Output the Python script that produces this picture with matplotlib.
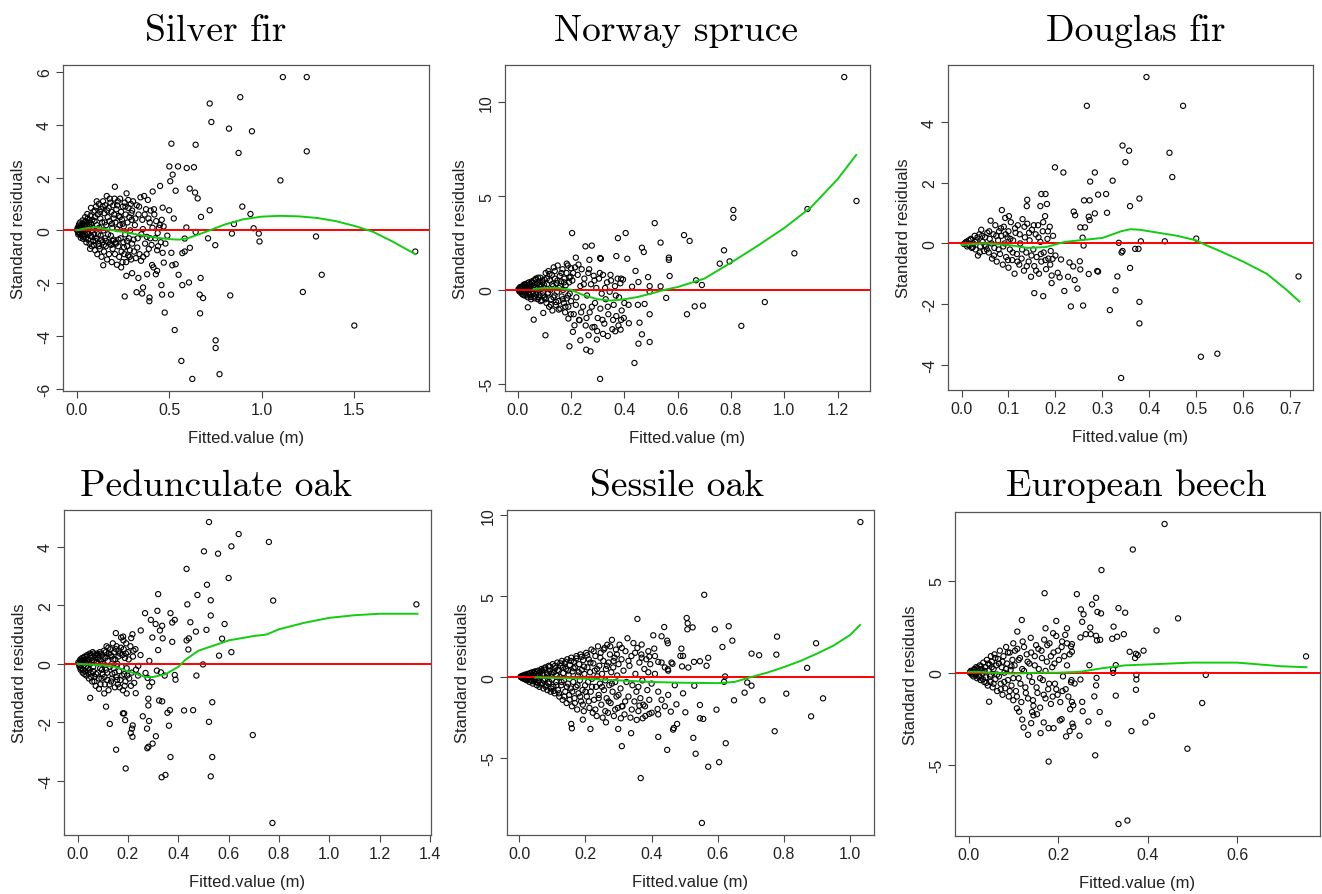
import numpy as np
import matplotlib.pyplot as plt
from matplotlib.ticker import FormatStrFormatter

plt.rcParams['font.family'] = ['Liberation Sans', 'DejaVu Sans']
plt.rcParams['axes.unicode_minus'] = False

# ---- data: (fitted value, standard residual) ----
silver_fir = [
    # spread-out points
    (1.114, 5.80), (1.243, 5.80), (0.884, 5.04), (0.719, 4.80), (0.728, 4.10), (0.823, 3.85),
    (0.947, 3.75), (1.243, 2.99), (0.512, 3.28), (0.643, 3.24), (0.875, 2.93), (1.101, 1.89),
    (0.501, 2.42), (0.548, 2.42), (0.595, 2.36), (0.634, 2.39), (0.519, 2.11), (0.506, 1.86),
    (0.535, 1.50), (0.611, 1.58), (0.640, 1.43), (0.654, 1.21), (0.451, 1.68), (0.207, 1.65),
    (0.411, 1.47), (0.895, 0.90), (0.719, 0.76), (0.939, 0.62), (0.672, 0.51), (0.525, 0.45),
    (0.500, 0.76), (0.465, 0.86), (0.850, 0.24), (0.956, 0.08), (0.984, -0.12), (0.988, -0.42),
    (0.839, -0.12), (1.293, -0.23), (1.829, -0.80), (0.643, -0.06), (0.593, 0.11), (0.584, -0.31),
    (0.710, -0.30), (0.749, -0.56), (0.571, -0.86), (0.584, -0.80), (0.612, -0.66), (0.670, -1.80),
    (0.607, -1.97), (0.571, -2.07), (0.665, -2.43), (0.683, -2.56), (0.830, -2.46), (0.667, -3.14),
    (1.222, -2.33), (1.324, -1.68), (1.500, -3.60), (0.530, -3.77), (0.566, -4.94), (0.751, -4.16),
    (0.751, -4.45), (0.772, -5.44), (0.625, -5.62), (0.476, -3.11), (0.462, -2.43), (0.510, -2.43),
    (0.458, -2.07), (0.535, -1.28), (0.551, -1.68), (0.517, -1.32), (0.512, -0.85), (0.393, -2.68),
    (0.394, -2.54), (0.359, -2.16), (0.324, -2.34), (0.260, -2.50), (0.354, -2.39), (0.269, -1.72),
    (0.300, -1.62), (0.334, -1.80), (0.408, -1.31), (0.381, -1.66), (0.428, -1.66), (0.435, -1.53),
    (0.471, -1.22), (0.144, -1.32),
    # dense cloud
    (0.005, 0.02), (0.008, -0.05), (0.010, 0.08), (0.012, -0.10), (0.015, 0.05), (0.018, 0.15),
    (0.020, -0.12), (0.022, 0.00), (0.025, 0.20), (0.027, -0.20), (0.030, 0.10), (0.032, -0.05),
    (0.035, 0.25), (0.037, -0.25), (0.040, 0.05), (0.042, 0.30), (0.045, -0.15), (0.047, 0.12),
    (0.050, -0.30), (0.050, 0.35), (0.055, 0.20), (0.057, -0.10), (0.060, 0.45), (0.062, -0.35),
    (0.065, 0.05), (0.067, 0.30), (0.070, -0.50), (0.072, 0.15), (0.075, 0.55), (0.077, -0.20),
    (0.080, 0.25), (0.082, -0.60), (0.085, 0.40), (0.087, 0.00), (0.090, -0.40), (0.092, 0.70),
    (0.095, -0.15), (0.097, 0.35), (0.100, -0.75), (0.100, 0.50), (0.105, 0.90), (0.108, -0.30),
    (0.110, 0.20), (0.112, -0.90), (0.115, 0.60), (0.118, -0.50), (0.120, 1.00), (0.122, 0.10),
    (0.125, -0.70), (0.128, 0.45), (0.130, -0.20), (0.133, 0.80), (0.135, -1.00), (0.138, 0.30),
    (0.140, -0.45), (0.143, 1.10), (0.145, 0.00), (0.148, -0.80), (0.150, 0.65), (0.153, -0.30),
    (0.155, 0.95), (0.158, -0.60), (0.160, 0.20), (0.163, 1.30), (0.165, -1.10), (0.168, 0.50),
    (0.170, -0.15), (0.173, 0.85), (0.175, -0.90), (0.178, 0.35), (0.180, -0.50), (0.183, 1.05),
    (0.185, -0.20), (0.188, 0.70), (0.190, -1.20), (0.193, 0.10), (0.195, -0.70), (0.198, 0.95),
    (0.200, -0.35), (0.200, 0.45), (0.205, 1.20), (0.208, -0.90), (0.210, 0.30), (0.213, -0.50),
    (0.215, 0.80), (0.218, -1.30), (0.220, 0.05), (0.223, 1.10), (0.225, -0.60), (0.228, 0.55),
    (0.230, -1.00), (0.233, 0.20), (0.235, 1.20), (0.238, -0.30), (0.240, 0.70), (0.243, -0.80),
    (0.245, 0.40), (0.248, -1.20), (0.250, 0.90), (0.253, -0.45), (0.255, 0.15), (0.258, -0.90),
    (0.260, 1.05), (0.263, -0.15), (0.265, 0.60), (0.268, -1.20), (0.270, 1.40), (0.273, -0.60),
    (0.275, 0.30), (0.278, -0.95), (0.280, 0.85), (0.283, -0.30), (0.285, 0.50), (0.288, -0.75),
    (0.290, 0.00), (0.293, 1.00), (0.295, -1.10), (0.298, 0.40), (0.300, -0.50), (0.300, 0.75),
    (0.305, 1.10), (0.310, -0.80), (0.315, 0.20), (0.320, -1.05), (0.325, 0.95), (0.330, -0.30),
    (0.335, 0.60), (0.340, -0.90), (0.345, 1.25), (0.350, -0.15), (0.355, 0.40), (0.360, -1.00),
    (0.365, 1.30), (0.370, -0.50), (0.375, 0.80), (0.380, -0.25), (0.385, 1.15), (0.390, -0.70),
    (0.395, 0.30), (0.400, 0.75), (0.405, -0.55), (0.410, 0.10), (0.415, -1.40), (0.420, 0.60),
    (0.425, -0.30), (0.430, 0.35), (0.435, -0.75), (0.440, -0.60), (0.445, 0.10), (0.450, 0.20),
    (0.455, -0.45), (0.460, 0.40), (0.465, -0.85), (0.470, 0.15), (0.480, -0.50), (0.490, -0.20),
    (0.003, 0.00), (0.006, 0.10), (0.009, -0.15), (0.013, 0.22), (0.016, -0.08), (0.019, 0.30),
    (0.023, -0.28), (0.026, 0.12), (0.029, -0.02), (0.033, 0.38), (0.036, -0.32), (0.039, 0.18),
    (0.043, -0.22), (0.046, 0.50), (0.049, 0.02), (0.053, -0.45), (0.058, 0.62), (0.063, -0.15),
    (0.068, 0.40), (0.073, -0.70), (0.078, 0.85), (0.083, -0.25), (0.088, 0.10), (0.093, -0.55),
    (0.098, 0.75), (0.103, -0.40), (0.109, 1.10), (0.116, -0.15), (0.121, -0.60), (0.127, 0.70),
    (0.134, -0.35), (0.141, 0.90), (0.147, -0.55), (0.152, 0.30), (0.159, -0.40), (0.166, 0.75),
    (0.172, -0.45), (0.179, 1.20), (0.186, -0.55), (0.191, 0.25), (0.196, -0.40), (0.203, 0.60),
    (0.211, -0.45), (0.219, 0.95), (0.226, -0.35), (0.234, 0.50), (0.241, -1.40), (0.249, 0.25),
    (0.256, -0.65), (0.264, 0.90), (0.272, -0.40), (0.279, 1.15), (0.287, -1.00), (0.296, 0.65),
    (0.308, -0.35), (0.318, 0.45), (0.328, -0.65), (0.338, 0.90), (0.348, -1.15), (0.358, 0.05),
    (0.368, 0.60), (0.378, -0.90), (0.388, 0.45), (0.398, -0.30), (0.418, 0.80), (0.438, -0.10),
]
silver_fit_x = [0.0, 0.05, 0.1, 0.2, 0.3, 0.4, 0.5, 0.55, 0.6, 0.7, 0.8, 0.9, 1.0, 1.1, 1.2, 1.3,
                1.4, 1.5, 1.6, 1.7, 1.83]
silver_fit_y = [0.0, 0.08, 0.12, 0.0, -0.12, -0.25, -0.33, -0.35, -0.3, -0.05, 0.22, 0.42, 0.52,
                0.55, 0.53, 0.47, 0.35, 0.17, -0.05, -0.4, -0.9]

norway_spruce = [
    (1.225, 11.35), (1.271, 4.74), (1.087, 4.31), (0.809, 4.26), (0.809, 3.85), (1.038, 1.95),
    (0.774, 2.11), (0.758, 1.40), (0.795, 1.52), (0.669, 0.51), (0.691, 0.26), (0.927, -0.65),
    (0.839, -1.92), (0.514, 3.56), (0.624, 2.92), (0.645, 2.61), (0.536, 2.52), (0.567, 1.72),
    (0.567, 1.60), (0.570, 0.74), (0.536, 0.19), (0.557, -0.43), (0.664, -0.88), (0.695, -0.84),
    (0.635, -1.30), (0.495, -1.30), (0.495, -2.78), (0.453, -2.87), (0.466, -2.37), (0.457, -1.75),
    (0.438, -3.90), (0.309, -4.75), (0.405, 3.03), (0.376, 2.76), (0.370, 1.80), (0.411, 1.66),
    (0.466, 2.25), (0.473, 2.02), (0.204, 3.03), (0.254, 2.32), (0.278, 2.36), (0.218, 1.72),
    (0.269, 1.60), (0.309, 1.70), (0.312, 1.66), (0.442, 1.01), (0.489, 0.68), (0.495, 0.20),
    (0.453, 0.42), (0.429, 0.17), (0.495, -0.09), (0.476, -0.75), (0.451, -0.80), (0.416, -0.80),
    (0.417, -1.78), (0.388, -1.60), (0.366, -2.21), (0.386, -2.12), (0.338, -2.46), (0.320, -2.35),
    (0.288, -1.98), (0.266, -2.42), (0.257, -3.19), (0.273, -3.28), (0.235, -2.69), (0.297, -2.65),
    (0.194, -3.01), (0.104, -2.42), (0.060, -1.59), (0.038, -0.93), (0.096, -1.23), (0.190, -1.53),
    (0.213, -1.89), (0.207, -2.24), (0.232, -1.62),
    (0.005, 0.00), (0.008, 0.10), (0.010, -0.10), (0.012, 0.05), (0.015, -0.20), (0.018, 0.20),
    (0.020, -0.05), (0.022, 0.15), (0.025, -0.30), (0.028, 0.30), (0.030, 0.00), (0.032, -0.15),
    (0.035, 0.25), (0.038, -0.40), (0.040, 0.10), (0.042, 0.40), (0.045, -0.25), (0.048, 0.20),
    (0.050, -0.50), (0.052, 0.05), (0.055, 0.35), (0.058, -0.20), (0.060, 0.50), (0.062, -0.35),
    (0.065, 0.15), (0.068, 0.60), (0.070, -0.10), (0.072, 0.30), (0.075, -0.50), (0.078, 0.45),
    (0.080, 0.00), (0.082, -0.30), (0.085, 0.65), (0.088, 0.20), (0.090, -0.55), (0.092, 0.40),
    (0.095, -0.15), (0.098, 0.10), (0.100, 0.55), (0.100, -0.40), (0.105, 0.90), (0.108, -0.70),
    (0.110, 0.30), (0.113, -0.20), (0.115, 1.00), (0.118, -0.90), (0.120, 0.50), (0.123, 0.00),
    (0.125, -0.50), (0.128, 0.80), (0.130, -1.10), (0.133, 0.20), (0.135, 1.20), (0.138, -0.30),
    (0.140, 0.60), (0.143, -0.80), (0.145, 0.35), (0.148, -0.10), (0.150, 1.30), (0.153, -0.60),
    (0.155, 0.10), (0.158, 0.75), (0.160, -1.00), (0.163, 0.45), (0.165, -0.35), (0.168, 1.10),
    (0.170, 0.00), (0.173, -0.70), (0.175, 0.60), (0.178, -1.20), (0.180, 0.25), (0.183, 0.90),
    (0.185, -0.45), (0.188, 1.30), (0.190, -0.90), (0.193, 0.40), (0.195, -0.20), (0.198, 0.70),
    (0.200, -0.60), (0.200, 1.15), (0.205, 0.50), (0.210, -1.30), (0.215, 1.20), (0.220, -0.40),
    (0.225, 0.80), (0.230, -1.60), (0.235, 0.20), (0.240, 1.10), (0.245, -0.90), (0.250, 0.60),
    (0.255, -1.90), (0.260, -0.30), (0.265, 0.90), (0.270, -1.20), (0.275, 0.30), (0.280, -2.00),
    (0.285, 0.75), (0.290, -0.70), (0.295, 0.10), (0.300, -1.50), (0.305, 0.60), (0.310, -1.00),
    (0.315, -0.20), (0.320, 0.80), (0.325, -1.80), (0.330, -0.50), (0.335, 0.40), (0.340, -1.30),
    (0.345, -0.10), (0.350, 0.50), (0.355, -2.10), (0.360, -0.80), (0.365, 0.20), (0.370, -1.40),
    (0.375, 0.60), (0.380, -0.40), (0.385, 0.35), (0.390, -1.10), (0.395, 0.55), (0.400, -0.70),
    (0.003, 0.05), (0.006, -0.08), (0.009, 0.15), (0.013, -0.12), (0.016, 0.08), (0.019, -0.25),
    (0.023, 0.28), (0.026, -0.05), (0.029, 0.12), (0.033, -0.30), (0.036, 0.35), (0.039, 0.00),
    (0.043, -0.20), (0.046, 0.30), (0.049, -0.38), (0.053, 0.45), (0.056, -0.10), (0.059, 0.20),
    (0.063, -0.45), (0.066, 0.55), (0.069, -0.25), (0.073, 0.10), (0.076, 0.65), (0.079, -0.40),
    (0.083, 0.30), (0.086, -0.60), (0.089, 0.05), (0.093, 0.50), (0.096, -0.30), (0.099, 0.25),
    (0.104, -0.50), (0.109, 0.60), (0.114, -0.15), (0.119, 0.85), (0.124, -0.80), (0.129, 0.30),
    (0.134, -0.40), (0.139, 1.00), (0.144, -0.65), (0.149, 0.50), (0.154, -1.05), (0.159, 0.20),
    (0.164, 0.90), (0.169, -0.50), (0.174, 0.40), (0.179, -0.90), (0.184, 1.40), (0.189, -0.30),
    (0.194, 0.65), (0.199, -1.30), (0.208, 0.90), (0.218, -0.80), (0.228, 1.35), (0.238, -1.20),
    (0.248, 0.30), (0.258, -1.50), (0.268, 1.10), (0.278, -0.90), (0.288, 0.50), (0.298, -2.20),
    (0.308, 0.90), (0.318, -1.60), (0.328, 0.10), (0.338, -0.90), (0.348, 0.80), (0.358, -1.60),
    (0.368, -0.30), (0.378, -1.90), (0.388, 0.60), (0.398, -1.50),
]
norway_fit_x = [0.06, 0.1, 0.15, 0.2, 0.25, 0.3, 0.35, 0.4, 0.45, 0.5, 0.55, 0.6, 0.7, 0.8, 0.9,
                1.0, 1.1, 1.2, 1.27]
norway_fit_y = [0.05, 0.1, 0.1, 0.0, -0.3, -0.5, -0.57, -0.5, -0.38, -0.2, 0.0, 0.15, 0.6, 1.45,
                2.35, 3.3, 4.4, 5.9, 7.2]

douglas_fir = [
    (0.394, 5.49), (0.267, 4.54), (0.472, 4.54), (0.343, 3.23), (0.357, 3.06), (0.349, 2.68),
    (0.443, 2.99), (0.449, 2.19), (0.199, 2.51), (0.217, 2.34), (0.284, 2.34), (0.274, 2.04),
    (0.322, 2.07), (0.291, 1.61), (0.308, 1.63), (0.261, 1.42), (0.273, 1.42), (0.379, 1.48),
    (0.359, 1.23), (0.310, 1.01), (0.284, 0.99), (0.273, 0.77), (0.271, 0.88), (0.239, 1.05),
    (0.242, 0.93), (0.253, 0.53), (0.263, 0.53), (0.258, 0.19), (0.260, -0.07), (0.335, 0.02),
    (0.343, -0.25), (0.341, -0.30), (0.370, -0.18), (0.377, -0.18), (0.382, 0.07), (0.433, 0.07),
    (0.500, 0.16), (0.359, -0.81), (0.332, -1.09), (0.328, -1.55), (0.379, -1.93), (0.379, -2.64),
    (0.316, -2.20), (0.259, -2.05), (0.233, -2.08), (0.247, -1.49), (0.241, -1.21), (0.271, -1.01),
    (0.289, -0.91), (0.291, -0.93), (0.253, -0.86), (0.252, -0.59), (0.230, -0.63), (0.238, -0.76),
    (0.219, -1.57), (0.212, -0.53), (0.227, -1.10), (0.209, -1.12), (0.192, -1.31), (0.192, -1.06),
    (0.205, -0.97), (0.194, -0.51), (0.340, -4.44), (0.510, -3.74), (0.545, -3.64), (0.718, -1.09),
    (0.174, -1.74), (0.155, -1.64), (0.140, 1.44), (0.139, 1.23), (0.170, 1.63), (0.179, 1.63),
    (0.182, 1.30), (0.168, 1.23), (0.086, 1.10), (0.093, 0.84), (0.101, 0.90),
    (0.005, -0.02), (0.010, 0.05), (0.012, -0.10), (0.015, 0.10), (0.018, -0.05), (0.020, 0.15),
    (0.022, -0.15), (0.025, 0.00), (0.028, 0.25), (0.030, -0.20), (0.032, 0.10), (0.035, -0.40),
    (0.038, 0.30), (0.040, -0.10), (0.042, 0.45), (0.045, 0.05), (0.048, -0.25), (0.050, 0.20),
    (0.052, -0.10), (0.055, 0.35), (0.058, -0.30), (0.060, 0.15), (0.062, 0.75), (0.065, -0.50),
    (0.068, 0.30), (0.070, -0.15), (0.072, 0.60), (0.075, -0.60), (0.078, 0.10), (0.080, 0.40),
    (0.082, -0.35), (0.085, 0.25), (0.088, -0.70), (0.090, 0.55), (0.092, 0.00), (0.095, -0.45),
    (0.098, 0.20), (0.100, -0.80), (0.100, 0.40), (0.103, -0.20), (0.105, 0.70), (0.108, -0.55),
    (0.110, 0.10), (0.113, -1.00), (0.115, 0.35), (0.118, -0.35), (0.120, 0.60), (0.123, -0.70),
    (0.125, 0.00), (0.128, -0.50), (0.130, 0.80), (0.133, -0.90), (0.135, 0.20), (0.138, -0.30),
    (0.140, 0.65), (0.143, -0.60), (0.145, 0.10), (0.148, -1.10), (0.150, 0.45), (0.153, -0.20),
    (0.155, -0.75), (0.158, 0.30), (0.160, -0.45), (0.163, 0.60), (0.165, -1.00), (0.168, 0.05),
    (0.170, -0.60), (0.173, 0.40), (0.175, -0.30), (0.178, 0.90), (0.180, -0.85), (0.183, 0.15),
    (0.185, -0.50), (0.188, 0.55), (0.190, -0.25), (0.195, 0.25), (0.200, -0.40),
    (0.008, 0.02), (0.014, -0.05), (0.019, 0.12), (0.024, -0.12), (0.029, 0.05), (0.034, 0.20),
    (0.039, -0.30), (0.044, 0.25), (0.049, -0.05), (0.054, -0.20), (0.059, 0.40), (0.064, 0.00),
    (0.069, -0.40), (0.074, 0.25), (0.079, -0.20), (0.084, 0.50), (0.089, -0.10), (0.094, 0.30),
    (0.099, -0.55), (0.104, 0.15), (0.109, -0.30), (0.114, 0.50), (0.119, -0.60), (0.124, 0.30),
    (0.129, -0.20), (0.134, 0.55), (0.139, -0.75), (0.144, 0.35), (0.149, -0.40), (0.154, 0.60),
    (0.159, -0.90), (0.164, 0.20), (0.169, -0.35), (0.174, 0.70), (0.179, -0.55), (0.184, 0.40),
    (0.189, -0.70),
]
douglas_fit_x = [0.0, 0.05, 0.1, 0.14, 0.18, 0.22, 0.25, 0.3, 0.34, 0.36, 0.38, 0.42, 0.46, 0.5,
                 0.52, 0.55, 0.6, 0.65, 0.69, 0.72]
douglas_fit_y = [-0.05, 0.0, -0.05, -0.15, -0.12, 0.05, 0.1, 0.18, 0.4, 0.47, 0.45, 0.35, 0.25,
                 0.1, -0.05, -0.25, -0.6, -1.0, -1.5, -1.92]

pedunculate_oak = [
    (0.522, 4.84), (0.640, 4.43), (0.760, 4.16), (0.502, 3.84), (0.611, 4.01), (0.558, 3.76),
    (0.433, 3.24), (0.600, 2.93), (0.514, 2.70), (0.320, 2.38), (0.476, 2.35), (0.529, 2.17),
    (0.777, 2.16), (0.436, 2.03), (1.346, 2.03), (0.268, 1.73), (0.317, 1.81), (0.369, 1.73),
    (0.386, 1.50), (0.376, 1.41), (0.448, 1.42), (0.529, 1.65), (0.584, 1.36), (0.291, 1.50),
    (0.310, 1.36), (0.336, 1.30), (0.327, 1.14), (0.512, 1.16), (0.470, 1.10), (0.251, 1.14),
    (0.442, 0.87), (0.433, 0.80), (0.297, 0.90), (0.338, 0.87), (0.376, 0.75), (0.574, 0.86),
    (0.440, 0.49), (0.320, 0.47), (0.611, 0.40), (0.562, 0.28), (0.285, 0.10), (0.498, -0.02),
    (0.241, -0.07), (0.270, -0.31), (0.315, -0.23), (0.331, -0.29), (0.346, -0.40), (0.386, -0.38),
    (0.389, -0.54), (0.472, -0.40), (0.278, -0.48), (0.296, -0.63), (0.285, -0.77), (0.231, -1.00),
    (0.281, -1.19), (0.281, -1.42), (0.324, -1.25), (0.336, -1.28), (0.357, -1.67), (0.367, -1.58),
    (0.423, -1.59), (0.459, -1.58), (0.535, -1.31), (0.259, -1.79), (0.284, -1.95), (0.522, -1.98),
    (0.363, -2.11), (0.276, -2.21), (0.311, -2.47), (0.298, -2.72), (0.277, -2.88), (0.281, -2.83),
    (0.696, -2.43), (0.369, -3.18), (0.535, -3.18), (0.334, -3.87), (0.349, -3.79), (0.529, -3.84),
    (0.774, -5.43), (0.153, -2.93), (0.191, -3.57), (0.128, -2.05), (0.113, -1.46), (0.189, -1.92),
    (0.185, -1.69), (0.180, -1.69), (0.219, -2.10), (0.211, -2.36), (0.218, -2.49), (0.216, -2.21),
    (0.050, -1.16), (0.106, -1.01), (0.195, -1.01), (0.152, 1.05), (0.181, 0.93), (0.218, 1.01),
    (0.213, 0.88),
    (0.005, 0.00), (0.008, -0.10), (0.010, 0.10), (0.012, -0.20), (0.015, 0.05), (0.018, 0.20),
    (0.020, -0.30), (0.022, 0.10), (0.025, -0.05), (0.028, 0.25), (0.030, -0.25), (0.032, 0.05),
    (0.035, -0.40), (0.038, 0.30), (0.040, -0.15), (0.042, 0.15), (0.045, -0.50), (0.048, 0.35),
    (0.050, 0.00), (0.052, -0.30), (0.055, 0.20), (0.058, -0.60), (0.060, 0.40), (0.062, -0.10),
    (0.065, 0.10), (0.068, -0.45), (0.070, 0.30), (0.072, -0.75), (0.075, 0.05), (0.078, 0.35),
    (0.080, -0.30), (0.082, 0.20), (0.085, -0.85), (0.088, 0.40), (0.090, -0.15), (0.092, 0.10),
    (0.095, -0.50), (0.098, 0.30), (0.100, -0.35), (0.100, 0.00), (0.105, 0.45), (0.108, -0.70),
    (0.110, 0.20), (0.113, -0.20), (0.115, 0.60), (0.118, -0.55), (0.120, 0.10), (0.123, -0.90),
    (0.125, 0.35), (0.128, -0.10), (0.130, 0.50), (0.133, -0.60), (0.135, 0.25), (0.138, -0.35),
    (0.140, 0.70), (0.143, -0.15), (0.145, 0.40), (0.148, -0.80), (0.150, 0.15), (0.153, -0.45),
    (0.155, 0.60), (0.158, 0.00), (0.160, -0.70), (0.163, 0.45), (0.165, -0.25), (0.168, 0.35),
    (0.170, -0.55), (0.173, 0.90), (0.175, -0.10), (0.178, 0.30), (0.180, -0.90), (0.183, 0.50),
    (0.185, -0.35), (0.188, 0.20), (0.190, -0.60), (0.193, 0.70), (0.195, -0.15), (0.200, 0.40),
    (0.205, -0.50), (0.210, 0.60), (0.215, -0.30), (0.220, 0.25), (0.225, -0.65), (0.230, 0.50),
    (0.240, -0.40), (0.250, 0.30),
    (0.003, 0.05), (0.007, -0.05), (0.011, 0.15), (0.014, -0.15), (0.017, 0.10), (0.021, -0.20),
    (0.024, 0.20), (0.027, -0.35), (0.031, 0.15), (0.034, -0.10), (0.037, 0.25), (0.041, -0.30),
    (0.044, 0.05), (0.047, -0.20), (0.051, 0.30), (0.054, -0.45), (0.057, 0.10), (0.061, -0.25),
    (0.064, 0.35), (0.067, -0.60), (0.071, 0.20), (0.074, -0.35), (0.077, 0.05), (0.081, 0.30),
    (0.084, -0.50), (0.087, 0.15), (0.091, -0.70), (0.094, 0.35), (0.097, -0.20), (0.103, 0.25),
    (0.107, -0.45), (0.112, 0.40), (0.117, -0.30), (0.122, 0.55), (0.127, -0.70), (0.132, 0.30),
    (0.137, -0.50), (0.142, 0.15), (0.147, -0.30), (0.152, 0.50), (0.157, -0.55), (0.162, 0.25),
    (0.167, -0.80), (0.172, 0.55), (0.177, -0.40), (0.182, 0.80), (0.187, -0.75), (0.192, 0.35),
    (0.197, -0.40), (0.203, 0.15), (0.212, -0.75), (0.222, 0.45), (0.232, -0.20),
]
pedunculate_fit_x = [0.0, 0.1, 0.15, 0.2, 0.27, 0.3, 0.35, 0.4, 0.43, 0.48, 0.55, 0.6, 0.7,
                     0.75, 0.8, 0.9, 1.0, 1.1, 1.2, 1.35]
pedunculate_fit_y = [0.0, -0.05, -0.1, -0.25, -0.45, -0.45, -0.35, -0.1, 0.15, 0.45, 0.65, 0.8,
                     0.95, 1.0, 1.18, 1.4, 1.57, 1.66, 1.71, 1.71]

sessile_oak = [
    (1.031, 9.57), (0.559, 5.08), (0.506, 3.65), (0.509, 3.32), (0.508, 2.95), (0.524, 3.07),
    (0.357, 3.59), (0.438, 3.09), (0.591, 2.95), (0.633, 3.14), (0.405, 2.58), (0.430, 2.52),
    (0.644, 2.25), (0.779, 2.50), (0.897, 2.09), (0.614, 1.86), (0.702, 1.45), (0.725, 1.35),
    (0.777, 1.39), (0.490, 1.76), (0.487, 1.31), (0.495, 1.31), (0.571, 1.19), (0.546, 0.98),
    (0.528, 0.94), (0.511, 0.59), (0.492, 0.66), (0.566, 0.70), (0.870, 0.57), (0.447, 2.25),
    (0.449, 2.09), (0.370, 2.01), (0.408, 1.76), (0.393, 1.27), (0.420, 0.94), (0.449, 0.49),
    (0.463, 0.82), (0.622, 0.04), (0.619, -0.29), (0.689, -0.33), (0.702, -0.53), (0.681, -0.96),
    (0.649, -1.43), (0.735, -1.43), (0.807, -1.02), (0.918, -1.31), (0.882, -2.42), (0.772, -3.34),
    (0.596, -2.01), (0.546, -1.72), (0.546, -2.54), (0.556, -2.58), (0.502, -2.17), (0.495, -1.00),
    (0.529, -0.53), (0.526, -3.75), (0.533, -4.73), (0.624, -4.08), (0.604, -5.25), (0.571, -5.53),
    (0.552, -9.00), (0.367, -6.23), (0.447, -4.49), (0.420, -3.69), (0.465, -3.24), (0.467, -3.14),
    (0.477, -2.89), (0.458, -2.13), (0.475, -1.68), (0.338, -3.46), (0.310, -4.26), (0.299, -3.20),
    (0.215, -3.20), (0.157, -2.89), (0.159, -3.16), (0.192, -2.62), (0.355, -2.64), (0.373, -2.54),
    (0.393, -2.27), (0.418, -1.97), (0.363, -1.76), (0.307, -2.54), (0.262, -2.79), (0.310, -1.80),
    (0.005, 0.00), (0.007, 0.05), (0.009, -0.05), (0.011, 0.10), (0.013, -0.10), (0.015, 0.00),
    (0.017, 0.15), (0.019, -0.15), (0.021, 0.05), (0.023, -0.20), (0.025, 0.20), (0.027, -0.05),
    (0.029, 0.10), (0.031, -0.30), (0.033, 0.25), (0.035, 0.00), (0.037, -0.20), (0.039, 0.30),
    (0.041, -0.40), (0.043, 0.10), (0.045, -0.10), (0.047, 0.35), (0.049, -0.30), (0.051, 0.20),
    (0.053, -0.50), (0.055, 0.05), (0.057, 0.40), (0.059, -0.20), (0.061, -0.60), (0.063, 0.30),
    (0.065, 0.00), (0.067, 0.50), (0.069, -0.40), (0.071, 0.15), (0.073, -0.70), (0.075, 0.45),
    (0.077, -0.10), (0.079, 0.60), (0.081, -0.50), (0.083, 0.25), (0.085, -0.80), (0.087, 0.05),
    (0.089, 0.70), (0.091, -0.30), (0.093, 0.40), (0.095, -0.90), (0.097, 0.20), (0.099, -0.15),
    (0.101, 0.80), (0.103, -0.60), (0.105, 0.30), (0.107, -1.00), (0.109, 0.55), (0.111, -0.30),
    (0.113, 0.10), (0.115, 0.90), (0.117, -0.80), (0.119, 0.40), (0.121, -1.20), (0.123, 0.00),
    (0.125, 0.70), (0.127, -0.50), (0.129, 1.00), (0.131, -1.40), (0.133, 0.25), (0.135, -0.20),
    (0.137, 0.85), (0.139, -0.90), (0.141, 0.50), (0.143, -1.60), (0.145, 1.10), (0.147, -0.40),
    (0.149, 0.15), (0.151, -1.10), (0.153, 0.75), (0.155, -0.70), (0.157, 1.20), (0.159, -1.80),
    (0.161, 0.35), (0.163, -0.30), (0.165, 0.95), (0.167, -1.30), (0.169, 0.60), (0.171, -0.60),
    (0.173, 1.30), (0.175, -2.00), (0.177, 0.10), (0.179, -1.00), (0.181, 0.80), (0.183, -0.20),
    (0.185, 1.40), (0.187, -1.50), (0.189, 0.45), (0.191, -0.80), (0.193, 1.05), (0.195, -2.10),
    (0.197, 0.20), (0.199, -0.50), (0.202, 1.50), (0.204, -1.20), (0.206, 0.60), (0.208, -0.30),
    (0.210, 1.10), (0.212, -1.90), (0.214, 0.30), (0.216, -0.90), (0.218, 1.70), (0.220, -0.10),
    (0.222, -2.20), (0.224, 0.85), (0.226, -1.40), (0.228, 0.40), (0.230, 1.30), (0.232, -0.60),
    (0.234, -2.40), (0.236, 0.05), (0.238, 1.90), (0.240, -1.10), (0.242, 0.70), (0.244, -0.40),
    (0.246, 1.50), (0.248, -1.70), (0.250, 0.20), (0.252, -2.50), (0.254, 1.00), (0.256, -0.80),
    (0.258, 1.80), (0.260, -0.20), (0.262, 0.50), (0.264, -1.30), (0.266, 2.00), (0.268, -2.20),
    (0.270, 0.90), (0.272, -0.50), (0.274, 1.40), (0.276, -1.60), (0.278, 0.30), (0.280, 2.30),
    (0.282, -0.90), (0.284, 0.60), (0.286, -2.40), (0.288, 1.20), (0.290, -0.30), (0.292, 1.70),
    (0.294, -1.20), (0.296, 0.10), (0.298, -1.90), (0.300, 0.80), (0.303, 2.00), (0.306, -0.70),
    (0.309, 1.10), (0.312, -1.80), (0.315, 0.40), (0.318, -2.30), (0.321, 1.60), (0.324, -0.30),
    (0.327, 2.40), (0.330, -1.20), (0.333, 0.70), (0.336, -2.50), (0.339, 1.30), (0.342, -0.50),
    (0.345, 2.10), (0.348, -1.50), (0.351, 0.20), (0.354, -0.90), (0.357, 1.80), (0.360, -2.10),
    (0.363, 0.90), (0.366, -1.30), (0.369, 1.40), (0.372, -0.20), (0.375, -1.70), (0.378, 0.50),
    (0.381, -2.40), (0.384, 1.10), (0.387, -0.80), (0.390, 0.30), (0.393, -1.40), (0.396, 0.80),
    (0.400, -0.40), (0.410, 1.30), (0.420, -0.90), (0.430, -1.40), (0.440, 0.60), (0.450, -1.10),
    (0.460, 0.90), (0.470, -0.50),
    (0.004, 0.03), (0.008, -0.03), (0.012, 0.07), (0.016, -0.08), (0.020, 0.12), (0.024, -0.12),
    (0.028, 0.18), (0.032, -0.18), (0.036, 0.15), (0.040, -0.25), (0.044, 0.25), (0.048, -0.15),
    (0.052, 0.35), (0.056, -0.35), (0.060, 0.10), (0.064, -0.45), (0.068, 0.40), (0.072, -0.20),
    (0.076, 0.55), (0.080, -0.60), (0.084, 0.15), (0.088, -0.40), (0.092, 0.65), (0.096, -0.70),
    (0.100, 0.30), (0.104, -0.85), (0.108, 0.70), (0.112, -0.50), (0.116, 0.45), (0.120, -1.00),
    (0.124, 0.85), (0.128, -0.30), (0.132, 0.60), (0.136, -1.20), (0.140, 0.95), (0.144, -0.60),
    (0.148, 0.40), (0.152, -1.40), (0.156, 1.00), (0.160, -0.90), (0.164, 0.55), (0.168, -1.60),
    (0.172, 1.15), (0.176, -0.50), (0.180, 0.30), (0.184, -1.20), (0.188, 1.25), (0.192, -1.70),
    (0.196, 0.65), (0.200, -0.90), (0.205, 1.35), (0.210, -1.50), (0.215, 0.90), (0.220, -0.60),
    (0.225, 1.60), (0.230, -2.00), (0.235, 0.50), (0.240, -1.30), (0.245, 1.20), (0.250, -0.60),
    (0.255, 1.70), (0.260, -2.10), (0.265, 0.70), (0.270, -1.50), (0.275, 1.90), (0.280, -0.40),
    (0.285, 1.00), (0.290, -2.00), (0.295, 1.40), (0.300, -1.10), (0.310, 1.80), (0.320, -1.50),
    (0.330, 1.00), (0.340, -2.00), (0.350, 1.50), (0.360, -0.60), (0.370, 1.20), (0.380, -1.80),
    (0.390, 1.60), (0.400, -2.20), (0.410, 0.20), (0.420, -2.30), (0.430, 0.90), (0.440, -1.80),
    (0.450, 0.40),
]
sessile_fit_x = [0.05, 0.2, 0.3, 0.4, 0.5, 0.6, 0.65, 0.7, 0.75, 0.8, 0.85, 0.9, 0.95, 1.0, 1.03]
sessile_fit_y = [-0.02, -0.1, -0.2, -0.3, -0.35, -0.37, -0.3, 0.0, 0.28, 0.62, 1.0, 1.45, 1.95,
                 2.6, 3.22]

european_beech = [
    (0.438, 8.10), (0.367, 6.71), (0.297, 5.59), (0.170, 4.33), (0.242, 4.28), (0.285, 4.08),
    (0.276, 3.72), (0.335, 3.52), (0.251, 3.45), (0.257, 3.18), (0.288, 3.31), (0.296, 3.23),
    (0.350, 3.27), (0.468, 2.96), (0.254, 2.77), (0.196, 2.82), (0.119, 2.87), (0.272, 2.46),
    (0.324, 2.51), (0.420, 2.30), (0.172, 2.42), (0.220, 2.42), (0.109, 2.24), (0.262, 2.10),
    (0.273, 2.10), (0.285, 2.01), (0.347, 2.10), (0.332, 1.96), (0.321, 1.85), (0.250, 1.92),
    (0.294, 1.79), (0.287, 1.76), (0.189, 2.15), (0.216, 2.06), (0.209, 1.70), (0.231, 1.56),
    (0.231, 1.14), (0.229, 1.43), (0.360, 1.14), (0.374, 1.03), (0.391, 1.20), (0.372, 0.80),
    (0.378, 0.96), (0.754, 0.89), (0.270, 0.41), (0.329, 0.41), (0.323, -0.01), (0.323, 0.17),
    (0.375, -0.12), (0.375, -0.37), (0.530, -0.12), (0.374, -0.93), (0.329, -1.25), (0.281, -1.29),
    (0.285, -0.69), (0.286, -0.28), (0.250, -0.37), (0.237, -0.59), (0.229, -0.52), (0.254, -1.59),
    (0.255, -2.10), (0.231, -1.59), (0.234, -1.77), (0.227, -1.99), (0.293, -2.14), (0.268, -2.66),
    (0.312, -2.77), (0.410, -2.35), (0.395, -2.71), (0.364, -3.18), (0.522, -1.65), (0.489, -4.14),
    (0.283, -4.50), (0.179, -4.84), (0.355, -8.05), (0.335, -8.24), (0.248, -3.43), (0.234, -2.95),
    (0.232, -2.77), (0.226, -3.18), (0.218, -3.47), (0.208, -2.53), (0.204, -2.60), (0.190, -3.02),
    (0.179, -3.02), (0.168, -2.71), (0.161, -3.29), (0.133, -3.38), (0.123, -2.98), (0.120, -2.55),
    (0.140, -2.75), (0.142, -2.14), (0.153, -2.26), (0.145, -2.32), (0.113, -2.12), (0.108, -1.94),
    (0.046, -1.58),
    (0.003, 0.00), (0.005, 0.10), (0.007, -0.10), (0.009, 0.05), (0.011, -0.20), (0.013, 0.20),
    (0.015, -0.05), (0.017, 0.30), (0.019, -0.30), (0.021, 0.10), (0.023, -0.15), (0.025, 0.40),
    (0.027, -0.40), (0.029, 0.20), (0.031, 0.00), (0.033, 0.55), (0.035, -0.50), (0.037, 0.30),
    (0.039, -0.25), (0.041, 0.70), (0.043, -0.70), (0.045, 0.10), (0.047, 0.45), (0.049, -0.50),
    (0.050, 0.90), (0.050, -0.10), (0.052, 0.60), (0.054, -0.80), (0.056, 0.20), (0.058, 1.00),
    (0.060, -0.35), (0.062, 0.40), (0.064, -1.00), (0.066, 0.75), (0.068, -0.20), (0.070, 1.20),
    (0.072, -0.60), (0.074, 0.30), (0.076, -1.20), (0.078, 0.90), (0.080, 0.00), (0.082, -0.85),
    (0.084, 1.40), (0.086, 0.50), (0.088, -0.40), (0.090, -1.30), (0.092, 1.10), (0.094, 0.15),
    (0.096, -0.70), (0.098, 0.70), (0.100, -1.50), (0.100, 1.60), (0.103, 0.40), (0.106, -1.00),
    (0.109, 1.30), (0.112, -0.30), (0.115, 0.80), (0.118, -1.60), (0.121, 1.70), (0.124, 0.10),
    (0.127, -0.80), (0.130, 1.00), (0.133, -1.40), (0.136, 0.50), (0.139, 1.90), (0.142, -0.50),
    (0.145, -1.80), (0.148, 0.90), (0.151, 1.50), (0.154, -1.10), (0.157, 0.20), (0.160, -1.90),
    (0.163, 1.20), (0.166, -0.40), (0.169, 1.80), (0.172, -1.40), (0.175, 0.60), (0.178, -0.90),
    (0.181, 1.60), (0.184, -1.70), (0.187, 0.30), (0.190, 1.10), (0.193, -0.60), (0.196, 2.00),
    (0.199, -1.20), (0.202, 0.70), (0.205, -1.60), (0.208, 1.40), (0.211, -0.20), (0.214, 0.90),
    (0.217, -0.90), (0.220, 0.40), (0.223, -1.30), (0.226, 1.00),
    (0.004, 0.05), (0.008, -0.05), (0.012, 0.15), (0.016, -0.15), (0.020, 0.25), (0.024, -0.25),
    (0.028, 0.35), (0.032, -0.35), (0.036, 0.10), (0.040, -0.55), (0.044, 0.50), (0.048, -0.20),
    (0.052, 0.30), (0.056, -0.60), (0.060, 0.80), (0.064, -0.10), (0.068, 0.50), (0.072, -0.90),
    (0.076, 0.60), (0.080, -0.50), (0.084, 0.20), (0.088, 1.10), (0.092, -1.00), (0.096, 0.35),
    (0.100, -0.30), (0.104, 1.20), (0.108, -1.30), (0.112, 0.70), (0.116, -0.60), (0.120, 0.20),
    (0.124, 1.40), (0.128, -1.10), (0.132, 0.60), (0.136, -0.20), (0.140, 1.10), (0.144, -1.50),
    (0.148, 0.40), (0.152, -0.80), (0.156, 1.30), (0.160, -0.30), (0.164, 0.80), (0.168, -1.20),
    (0.172, 0.10), (0.176, 1.50), (0.180, -0.60), (0.184, 0.90), (0.188, -1.30), (0.192, 0.50),
    (0.196, -0.90), (0.200, 1.20), (0.210, -1.00), (0.220, 1.60), (0.230, -0.40),
]
beech_fit_x = [0.0, 0.02, 0.05, 0.1, 0.15, 0.2, 0.25, 0.3, 0.35, 0.4, 0.45, 0.5, 0.6, 0.65, 0.7,
               0.755]
beech_fit_y = [0.05, 0.05, 0.0, -0.05, 0.0, 0.0, 0.05, 0.25, 0.4, 0.45, 0.5, 0.55, 0.55, 0.45,
               0.35, 0.3]

titles = ["Silver fir", "Norway spruce", "Douglas fir",
          "Pedunculate oak", "Sessile oak", "European beech"]
point_sets = [silver_fir, norway_spruce, douglas_fir, pedunculate_oak, sessile_oak, european_beech]
fits = [(silver_fit_x, silver_fit_y), (norway_fit_x, norway_fit_y), (douglas_fit_x, douglas_fit_y),
        (pedunculate_fit_x, pedunculate_fit_y), (sessile_fit_x, sessile_fit_y),
        (beech_fit_x, beech_fit_y)]
x_ticks = [[0.0, 0.5, 1.0, 1.5], [0.0, 0.2, 0.4, 0.6, 0.8, 1.0, 1.2],
           [0.0, 0.1, 0.2, 0.3, 0.4, 0.5, 0.6, 0.7], [0.0, 0.2, 0.4, 0.6, 0.8, 1.0, 1.2, 1.4],
           [0.0, 0.2, 0.4, 0.6, 0.8, 1.0], [0.0, 0.2, 0.4, 0.6]]
y_ticks = [[-6, -4, -2, 0, 2, 4, 6], [-5, 0, 5, 10], [-4, -2, 0, 2, 4],
           [-4, -2, 0, 2, 4], [-5, 0, 5, 10], [-5, 0, 5]]

# layout in pixels: left, top, right, bottom of each plot box; title centre x, baseline y
W, H = 1322, 895
boxes = [(63, 66, 429, 392), (505, 66, 870, 392), (948, 66, 1313, 391),
         (64, 511, 431, 836), (507, 511, 874, 836), (955, 513, 1320, 837)]
title_pos = [(216, 41), (676, 41), (1136, 41), (216, 496), (677, 496), (1136, 496)]

fig = plt.figure(figsize=(W / 100, H / 100), dpi=100)

for i in range(6):
    l, t, r, b = boxes[i]
    ax = fig.add_axes([l / W, 1 - b / H, (r - l) / W, (b - t) / H])
    xs = [p[0] for p in point_sets[i]]
    ys = [p[1] for p in point_sets[i]]
    ax.scatter(xs, ys, s=14, facecolors='none', edgecolors='black', linewidths=0.8, zorder=2)
    ax.margins(0.04)
    ax.axhline(0, color='#ff0000', lw=1.4, zorder=3)
    ax.plot(fits[i][0], fits[i][1], color='#11cc11', lw=1.4, zorder=4)

    ax.set_xticks(x_ticks[i])
    ax.set_yticks(y_ticks[i])
    ax.xaxis.set_major_formatter(FormatStrFormatter('%.1f'))
    ax.yaxis.set_major_formatter(FormatStrFormatter('%d'))
    ax.tick_params(axis='both', direction='out', length=5, width=0.8, color='#444444',
                   labelsize=11.5, labelcolor='#222222', pad=3)
    ax.tick_params(axis='y', labelrotation=90)
    for lab in ax.get_yticklabels():
        lab.set_va('center')
    for sp in ax.spines.values():
        sp.set_color('#555555')
        sp.set_linewidth(0.9)
    ax.set_xlabel("Fitted.value (m)", fontsize=12, color='#222222', labelpad=9)
    ax.set_ylabel("Standard residuals", fontsize=12, color='#222222', labelpad=8)

    tx, ty = title_pos[i]
    fig.text(tx / W, 1 - ty / H, titles[i], fontfamily='cmr10', fontsize=27,
             ha='center', va='baseline', color='black')

fig.savefig('out.png', dpi=100)
